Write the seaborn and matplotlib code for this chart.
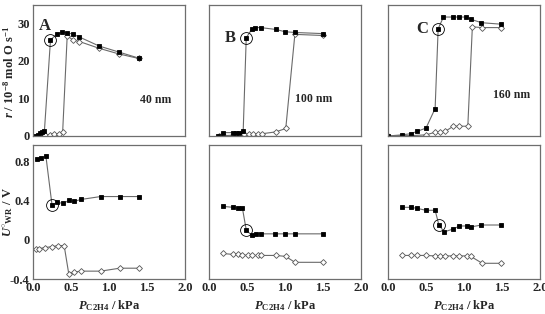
import matplotlib
matplotlib.use("Agg")
import matplotlib.pyplot as plt
import seaborn as sns
import pandas as pd

# ---- data ----
# panel A (40 nm)
a_r_sq_x = [0.02, 0.06, 0.09, 0.12, 0.15, 0.23, 0.31, 0.38, 0.45, 0.52, 0.61, 0.87, 1.13, 1.39]
a_r_sq_y = [0.0, 0.2, 0.8, 1.0, 1.3, 25.5, 27.0, 27.6, 27.4, 27.1, 26.3, 23.9, 22.3, 20.7]
a_r_di_x = [0.16, 0.22, 0.28, 0.34, 0.39, 0.45, 0.52, 0.61, 0.87, 1.13, 1.39]
a_r_di_y = [0.2, 0.3, 0.4, 0.6, 1.0, 26.6, 25.6, 25.1, 23.3, 21.8, 20.6]
a_u_sq_x = [0.05, 0.10, 0.17, 0.25, 0.32, 0.40, 0.47, 0.54, 0.63, 0.89, 1.14, 1.40]
a_u_sq_y = [0.82, 0.83, 0.85, 0.355, 0.38, 0.37, 0.40, 0.39, 0.41, 0.44, 0.44, 0.44]
a_u_di_x = [0.04, 0.08, 0.16, 0.25, 0.33, 0.41, 0.47, 0.54, 0.63, 0.89, 1.14, 1.40]
a_u_di_y = [-0.095, -0.09, -0.08, -0.07, -0.06, -0.06, -0.345, -0.33, -0.32, -0.32, -0.29, -0.29]

# panel B (100 nm)
b_r_sq_x = [0.12, 0.19, 0.31, 0.35, 0.39, 0.45, 0.49, 0.56, 0.61, 0.68, 0.88, 1.00, 1.13, 1.50]
b_r_sq_y = [0.0, 0.9, 0.9, 0.9, 0.9, 1.4, 26.1, 28.3, 28.8, 28.8, 28.3, 27.7, 27.5, 27.2]
b_r_di_x = [0.13, 0.20, 0.31, 0.36, 0.41, 0.46, 0.52, 0.58, 0.64, 0.70, 0.88, 1.01, 1.13, 1.50]
b_r_di_y = [0.0, 0.1, 0.2, 0.3, 0.3, 0.4, 0.4, 0.4, 0.5, 0.6, 1.1, 2.0, 27.0, 26.7]
b_u_sq_x = [0.18, 0.32, 0.38, 0.44, 0.49, 0.56, 0.62, 0.69, 0.87, 1.00, 1.13, 1.50]
b_u_sq_y = [0.34, 0.33, 0.32, 0.32, 0.10, 0.045, 0.06, 0.06, 0.06, 0.06, 0.06, 0.06]
b_u_di_x = [0.18, 0.32, 0.38, 0.44, 0.51, 0.57, 0.64, 0.69, 0.88, 1.01, 1.13, 1.50]
b_u_di_y = [-0.14, -0.15, -0.15, -0.155, -0.16, -0.16, -0.16, -0.16, -0.16, -0.17, -0.23, -0.23]

# panel C (160 nm)
c_r_sq_x = [0.0, 0.18, 0.30, 0.38, 0.50, 0.62, 0.66, 0.73, 0.85, 0.93, 1.03, 1.09, 1.23, 1.49]
c_r_sq_y = [0.0, 0.3, 0.6, 1.2, 2.1, 7.3, 28.5, 31.6, 31.6, 31.6, 31.6, 31.0, 30.1, 29.7]
c_r_di_x = [0.0, 0.18, 0.30, 0.50, 0.62, 0.68, 0.75, 0.86, 0.94, 1.05, 1.11, 1.24, 1.49]
c_r_di_y = [0.0, 0.1, 0.1, 0.3, 1.0, 1.0, 1.2, 2.6, 2.6, 2.6, 29.0, 28.8, 28.8]
c_u_sq_x = [0.18, 0.30, 0.38, 0.50, 0.62, 0.67, 0.74, 0.86, 0.94, 1.04, 1.09, 1.23, 1.49]
c_u_sq_y = [0.33, 0.33, 0.32, 0.30, 0.30, 0.15, 0.08, 0.11, 0.14, 0.14, 0.13, 0.15, 0.15]
c_u_di_x = [0.18, 0.30, 0.38, 0.50, 0.62, 0.68, 0.75, 0.86, 0.94, 1.04, 1.09, 1.24, 1.49]
c_u_di_y = [-0.16, -0.16, -0.16, -0.16, -0.165, -0.165, -0.165, -0.165, -0.165, -0.165, -0.17, -0.24, -0.24]

# highlighted (circled) points
circ_r = [(0.23, 25.5), (0.49, 26.1), (0.66, 28.5)]
circ_u = [(0.25, 0.355), (0.49, 0.10), (0.67, 0.15)]

panel_letters = ["A", "B", "C"]
letter_pos = [(0.15, 29.3), (0.28, 26.0), (0.45, 28.4)]
size_labels = ["40 nm", "100 nm", "160 nm"]
size_pos = [(1.62, 9.5), (1.38, 9.8), (1.62, 11.0)]

r_ticks = [0, 10, 20, 30]
u_ticks = [-0.4, 0, 0.4, 0.8]
u_ticklabels = ["-0.4", "0", "0.4", "0.8"]
x_ticks = [0.0, 0.5, 1.0, 1.5, 2.0]

sns.set_style("white")
plt.rcParams["font.family"] = ["Liberation Serif", "DejaVu Serif"]
plt.rcParams["font.weight"] = "bold"
plt.rcParams["mathtext.fontset"] = "custom"
plt.rcParams["mathtext.rm"] = "Liberation Serif:bold"
plt.rcParams["mathtext.it"] = "Liberation Serif:italic:bold"
plt.rcParams["mathtext.bf"] = "Liberation Serif:bold"

fig = plt.figure(figsize=(5.45, 3.14), dpi=100)

lefts = [33 / 545, 209 / 545, 388 / 545]
width = 152 / 545
top_box = (1 - 136 / 314, 131 / 314)
bot_box = (1 - 279 / 314, 134 / 314)

spine_col = "#6e6e6e"
line_col = "#6a6a6a"

panels = [
    (a_r_sq_x, a_r_sq_y, a_r_di_x, a_r_di_y, a_u_sq_x, a_u_sq_y, a_u_di_x, a_u_di_y),
    (b_r_sq_x, b_r_sq_y, b_r_di_x, b_r_di_y, b_u_sq_x, b_u_sq_y, b_u_di_x, b_u_di_y),
    (c_r_sq_x, c_r_sq_y, c_r_di_x, c_r_di_y, c_u_sq_x, c_u_sq_y, c_u_di_x, c_u_di_y),
]


def draw_series(ax, x, y, marker, filled):
    df = pd.DataFrame({"x": x, "y": y})
    sns.lineplot(data=df, x="x", y="y", ax=ax, sort=False, estimator=None,
                 color=line_col, lw=0.8, marker=marker,
                 markersize=3.4 if marker == "s" else 3.0,
                 markerfacecolor="black" if filled else "white",
                 markeredgecolor="black" if filled else "#555555",
                 markeredgewidth=0.6)


def style_axes(ax):
    for s in ax.spines.values():
        s.set_color(spine_col)
        s.set_linewidth(0.9)
    ax.tick_params(direction="in", length=3, width=0.8, color=spine_col,
                   labelsize=9, pad=2.5)
    ax.set_xlim(0, 2.0)
    ax.set_xticks(x_ticks)
    ax.set_xlabel("")
    ax.set_ylabel("")


for i, p in enumerate(panels):
    rsx, rsy, rdx, rdy, usx, usy, udx, udy = p
    ax_t = fig.add_axes([lefts[i], top_box[0], width, top_box[1]])
    ax_b = fig.add_axes([lefts[i], bot_box[0], width, bot_box[1]])

    draw_series(ax_t, rdx, rdy, "D", False)
    draw_series(ax_t, rsx, rsy, "s", True)
    draw_series(ax_b, udx, udy, "D", False)
    draw_series(ax_b, usx, usy, "s", True)

    ax_t.plot(*circ_r[i], marker="o", ms=8.5, mfc="none", mec="black", mew=0.6)
    ax_b.plot(*circ_u[i], marker="o", ms=8.5, mfc="none", mec="black", mew=0.6)

    style_axes(ax_t)
    style_axes(ax_b)
    ax_t.set_ylim(0, 34.8)
    ax_t.set_yticks(r_ticks)
    ax_b.set_ylim(-0.4, 0.965)
    ax_b.set_yticks(u_ticks)
    ax_t.set_xticklabels([])
    if i == 0:
        ax_t.set_yticklabels([str(t) for t in r_ticks])
        ax_b.set_yticklabels(u_ticklabels)
    else:
        ax_t.set_yticklabels([])
        ax_b.set_yticklabels([])
    ax_b.set_xticklabels([f"{t:.1f}" for t in x_ticks])
    ax_b.set_xlabel(r"$\it{P}$$_{\rm C2H4}$ / kPa", fontsize=9,
                    fontweight="bold", labelpad=3)

    ax_t.text(*letter_pos[i], panel_letters[i], fontsize=12, fontweight="bold",
              ha="center", va="center")
    ax_t.text(*size_pos[i], size_labels[i], fontsize=8.5, fontweight="bold",
              ha="center", va="center")

fig.text(9 / 545, 1 - 72 / 314, r"$\it{r}$ / 10$^{-8}$ mol O s$^{-1}$",
         rotation=90, fontsize=9, fontweight="bold", ha="center", va="center")
fig.text(8 / 545, 1 - 212 / 314, r"$\it{U}$$^{\circ}$$_{\rm WR}$ / V",
         rotation=90, fontsize=9, fontweight="bold", ha="center", va="center")

fig.savefig("out.png", dpi=100)
